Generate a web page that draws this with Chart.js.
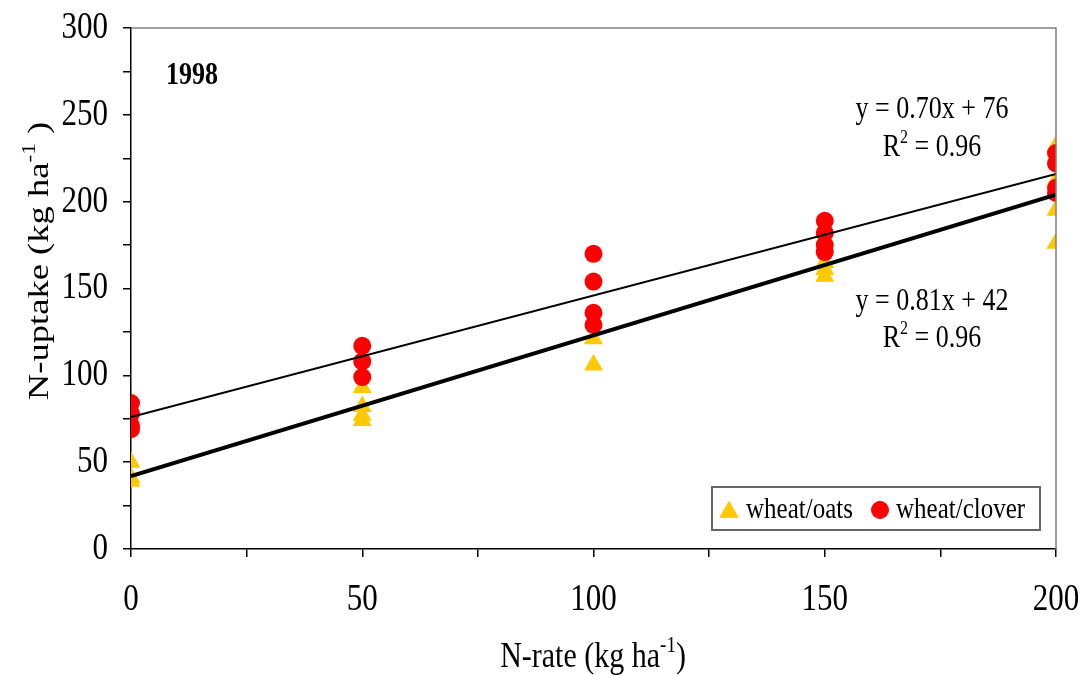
<!DOCTYPE html>
<html>
<head>
<meta charset="utf-8">
<title>N-uptake 1998</title>
<script src="https://cdn.jsdelivr.net/npm/chart.js@4.4.1/dist/chart.umd.min.js"></script>
<style>
  body { margin: 0; background: #fff; }
  #wrap { width: 1086px; height: 675px; }
</style>
</head>
<body>
<div id="wrap"><canvas id="uptakeChart" width="1086" height="675"></canvas></div>
<script>
// --- Data ---
const oatsRate   = [0, 0, 0, 50, 50, 50, 50, 100, 100, 150, 150, 150, 200, 200, 200, 200];
const oatsUptake = [50, 41, 39, 93, 82, 77, 74, 121, 106, 165, 161, 157, 232, 212, 195, 176];
const cloverRate   = [0, 0, 0, 0, 50, 50, 50, 100, 100, 100, 100, 150, 150, 150, 150, 200, 200, 200, 200];
const cloverUptake = [84, 78, 71, 69, 117, 108, 99, 170, 154, 136, 129, 189, 182, 175, 171, 228, 222, 208, 205];

// regression lines, end points at N-rate 0 and 200
const fitRate   = [0, 200];
const cloverFit = [76, 216];
const oatsFit   = [42, 204];

const seriesNames = ['wheat/oats', 'wheat/clover'];
const cloverEq = ['y = 0.70x + 76', ' = 0.96'];
const oatsEq   = ['y = 0.81x + 42', ' = 0.96'];
const yearLabel = '1998';

const xLabels = [0, 50, 100, 150, 200];
const yLabels = [0, 50, 100, 150, 200, 250, 300];

const OATS_COLOR = '#FFC800';
const CLOVER_COLOR = '#FF0000';
const SERIF = "'Liberation Serif', 'Times New Roman', serif";
const STRETCH = 1.22;   // the original figure's text is a bit taller than normal

function toPoints(xs, ys) {
    return xs.map((x, i) => ({ x: x, y: ys[i] }));
}

// text with superscript pieces: parts = [[text, isSup], ...]
// drawn at (0,0) of the current transform
function drawParts(ctx, parts, size, align, baseline, bold) {
    const weight = bold ? 'bold ' : '';
    const supSize = Math.round(size * 0.62);
    let total = 0;
    parts.forEach(p => {
        ctx.font = weight + (p[1] ? supSize : size) + 'px ' + SERIF;
        total += ctx.measureText(p[0]).width;
    });
    let cx = 0;
    if (align === 'center') cx = -total / 2;
    if (align === 'right') cx = -total;
    ctx.textAlign = 'left';
    ctx.textBaseline = baseline || 'alphabetic';
    parts.forEach(p => {
        ctx.font = weight + (p[1] ? supSize : size) + 'px ' + SERIF;
        ctx.fillText(p[0], cx, p[1] ? -size * 0.42 : 0);
        cx += ctx.measureText(p[0]).width;
    });
}

function textAt(ctx, parts, x, y, size, align, baseline, bold) {
    ctx.save();
    ctx.translate(x, y);
    ctx.scale(1, STRETCH);
    drawParts(ctx, parts, size, align, baseline, bold);
    ctx.restore();
}

const extrasPlugin = {
    id: 'extras',
    afterDraw(chart) {
        const ctx = chart.ctx;
        const a = chart.chartArea;
        const xs = chart.scales.x;
        const ys = chart.scales.y;
        ctx.save();

        // gray frame top + right
        ctx.strokeStyle = '#808080';
        ctx.lineWidth = 1.5;
        ctx.beginPath();
        ctx.moveTo(a.left, a.top);
        ctx.lineTo(a.right, a.top);
        ctx.lineTo(a.right, a.bottom);
        ctx.stroke();

        ctx.fillStyle = '#000';

        // tick labels
        xLabels.forEach(v => {
            textAt(ctx, [[String(v), false]], xs.getPixelForValue(v), 600, 31, 'center', 'middle');
        });
        yLabels.forEach(v => {
            textAt(ctx, [[String(v), false]], 108, ys.getPixelForValue(v), 31, 'right', 'middle');
        });

        // year label
        textAt(ctx, [[yearLabel, false]], 166, 76, 26, 'left', 'middle', true);

        // equations
        textAt(ctx, [[cloverEq[0], false]], 932, 118, 26, 'center');
        textAt(ctx, [['R', false], ['2', true], [cloverEq[1], false]], 932, 156, 26, 'center');
        textAt(ctx, [[oatsEq[0], false]], 932, 310, 26, 'center');
        textAt(ctx, [['R', false], ['2', true], [oatsEq[1], false]], 932, 347, 26, 'center');

        // axis titles
        textAt(ctx, [['N-rate (kg ha', false], ['-1', true], [')', false]], 593, 667, 30, 'center');
        ctx.save();
        ctx.translate(48, 261);
        ctx.rotate(-Math.PI / 2);
        ctx.scale(STRETCH, 1);
        drawParts(ctx, [['N-uptake (kg ha', false], ['-1', true], [' )', false]], 30, 'center');
        ctx.restore();

        // legend
        ctx.fillStyle = '#fff';
        ctx.fillRect(712, 487, 328, 43);
        ctx.strokeStyle = '#666';
        ctx.lineWidth = 2;
        ctx.strokeRect(712, 487, 328, 43);
        ctx.fillStyle = OATS_COLOR;
        ctx.strokeStyle = OATS_COLOR;
        ctx.lineWidth = 1;
        Chart.helpers.drawPoint(ctx, { pointStyle: 'triangle', radius: 10.5, rotation: 0, borderWidth: 1 }, 729, 512);
        ctx.fillStyle = CLOVER_COLOR;
        ctx.strokeStyle = CLOVER_COLOR;
        Chart.helpers.drawPoint(ctx, { pointStyle: 'circle', radius: 8.5, rotation: 0, borderWidth: 1 }, 880, 510);
        ctx.fillStyle = '#000';
        textAt(ctx, [[seriesNames[0], false]], 746, 518, 25, 'left');
        textAt(ctx, [[seriesNames[1], false]], 896, 518, 25, 'left');

        ctx.restore();
    }
};

new Chart(document.getElementById('uptakeChart'), {
    type: 'scatter',
    data: {
        datasets: [
            {
                type: 'line',
                label: 'clover fit',
                data: toPoints(fitRate, cloverFit),
                borderColor: '#000',
                borderWidth: 2,
                pointRadius: 0,
                fill: false,
                order: 0
            },
            {
                type: 'line',
                label: 'oats fit',
                data: toPoints(fitRate, oatsFit),
                borderColor: '#000',
                borderWidth: 4,
                pointRadius: 0,
                fill: false,
                order: 0
            },
            {
                label: seriesNames[1],
                data: toPoints(cloverRate, cloverUptake),
                pointStyle: 'circle',
                pointRadius: 9,
                backgroundColor: CLOVER_COLOR,
                borderColor: CLOVER_COLOR,
                borderWidth: 0,
                order: 1
            },
            {
                label: seriesNames[0],
                data: toPoints(oatsRate, oatsUptake),
                pointStyle: 'triangle',
                pointRadius: 11,
                backgroundColor: OATS_COLOR,
                borderColor: OATS_COLOR,
                borderWidth: 0,
                order: 2
            }
        ]
    },
    options: {
        responsive: false,
        animation: false,
        layout: { padding: { left: 0, right: 30, top: 28, bottom: 0 } },
        plugins: {
            legend: { display: false },
            tooltip: { enabled: false }
        },
        scales: {
            x: {
                type: 'linear',
                min: 0,
                max: 200,
                afterFit: s => { s.height = 126; s.paddingLeft = 0; s.paddingRight = 0; },
                ticks: {
                    stepSize: 25,
                    display: false
                },
                grid: { drawOnChartArea: false, drawTicks: true, tickLength: 8, color: '#000', lineWidth: 1.5 },
                border: { color: '#000', width: 1.5 }
            },
            y: {
                type: 'linear',
                min: 0,
                max: 300,
                afterFit: s => { s.width = 131; s.paddingTop = 0; s.paddingBottom = 0; },
                ticks: {
                    stepSize: 25,
                    display: false
                },
                grid: { drawOnChartArea: false, drawTicks: true, tickLength: 8, color: '#000', lineWidth: 1.5 },
                border: { color: '#000', width: 1.5 }
            }
        }
    },
    plugins: [extrasPlugin]
});
</script>
</body>
</html>
